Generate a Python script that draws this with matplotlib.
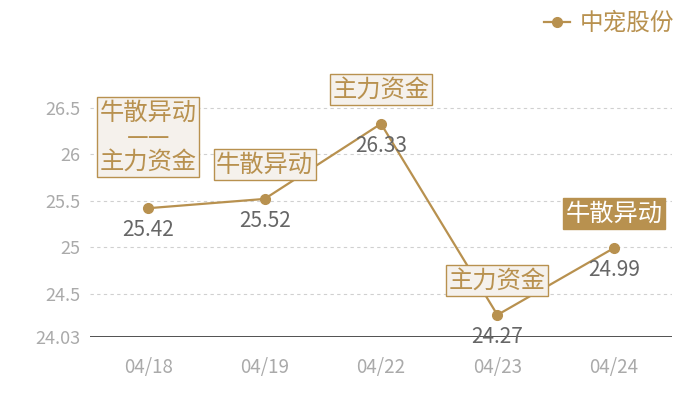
import matplotlib
matplotlib.use("Agg")
import matplotlib.pyplot as plt

plt.rcParams['font.family'] = ['Noto Sans CJK SC', 'DejaVu Sans']

dates = ["04/18", "04/19", "04/22", "04/23", "04/24"]
values = [25.42, 25.52, 26.33, 24.27, 24.99]
tags = ["牛散异动\n——\n主力资金", "牛散异动", "主力资金", "主力资金", "牛散异动"]
tag_filled = [False, False, False, False, True]
yticks = [24.03, 24.5, 25, 25.5, 26, 26.5]
ytick_labels = ["24.03", "24.5", "25", "25.5", "26", "26.5"]
series_name = "中宠股份"

gold = "#b8914f"
fig = plt.figure(figsize=(7, 4), dpi=100)
ax = fig.add_axes([90/700, 1-337.2/400, 582/700, (337.2-40)/400])
x = list(range(len(dates)))
ax.plot(x, values, color=gold, lw=1.6, marker='o', ms=7, mec=gold, mfc=gold, zorder=3, label=series_name)
ax.set_xlim(-0.5, 4.5)
ax.set_ylim(24.03, 24.03 + (337.2-40)/92.8)
ax.set_yticks(yticks)
ax.set_yticklabels(ytick_labels)
ax.set_xticks(x)
ax.set_xticklabels(dates)
for t in yticks[1:]:
    ax.axhline(t, color="#d0d0d0", lw=0.8, ls=(0, (3, 3)), zorder=1)
ax.axhline(24.03, color="#333333", lw=1.2, zorder=2)
for s in ax.spines.values():
    s.set_visible(False)
ax.tick_params(length=0, labelsize=13, labelcolor="#aaaaaa")
ax.tick_params(axis='x', labelsize=13.5, pad=14)
ax.tick_params(axis='y', pad=7)

for i, (v, tg, f) in enumerate(zip(values, tags, tag_filled)):
    ax.annotate(f"{v:.2f}", xy=(i, v), xytext=(0, -22), textcoords='offset pixels',
                ha='center', va='center', fontsize=15, color="#666666", zorder=4)
    off = 71 if "\n" in tg else 34.5
    if f:
        bb = dict(boxstyle='square,pad=0.1', fc=gold, ec=gold, lw=1)
        col = 'white'
    else:
        bb = dict(boxstyle='square,pad=0.1', fc="#f5f1ec", ec=gold, lw=1)
        col = gold
    ax.annotate(tg, xy=(i, v), xytext=(0, off), textcoords='offset pixels',
                ha='center', va='center', fontsize=17.5, color=col, bbox=bb,
                linespacing=0.92, multialignment='center', zorder=5)

leg = ax.legend(loc='upper right', bbox_to_anchor=(686/700, 1.0), bbox_transform=fig.transFigure,
                frameon=False, fontsize=17, handlelength=1.1, handletextpad=0.4,
                labelcolor=gold, borderaxespad=0.1)
fig.savefig("out.png", dpi=100)
